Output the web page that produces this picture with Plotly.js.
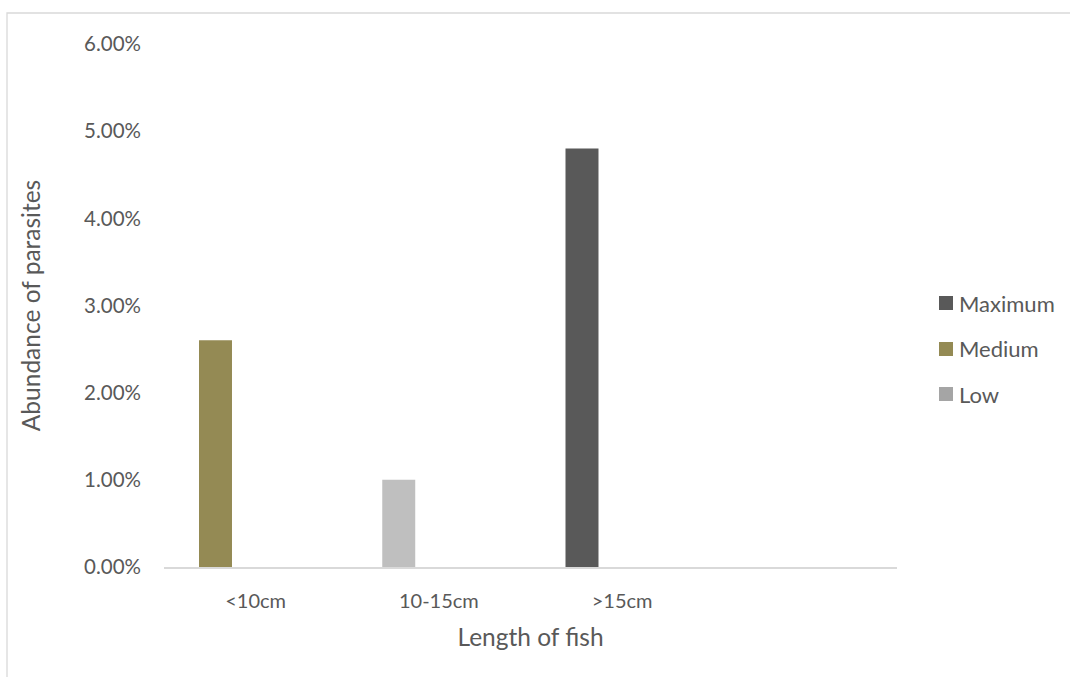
<!DOCTYPE html>
<html>
<head>
<meta charset="utf-8">
<script src="https://cdn.plot.ly/plotly-3.0.1.min.js"></script>
<style>
  html, body { margin: 0; padding: 0; background: #ffffff; }
  #chart { width: 1070px; height: 677px; }
</style>
</head>
<body>
<div id="chart"></div>
<script>
// Length classes of fish (the fourth slot of the axis is left empty)
const categories = ['<10cm', '10-15cm', '>15cm'];
const axisSlots = ['<10cm', '10-15cm', '>15cm', ' '];

// Abundance of parasites per series (fraction, shown as %)
const seriesNames = ['Maximum', 'Medium', 'Low'];
const maximumValues = [null, null, 0.048];
const mediumValues = [0.026, null, null];
const lowValues = [null, 0.010, null];

const barColors = ['#595959', '#948A54', '#BFBFBF'];
const legendColors = ['#595959', '#948A54', '#A5A5A5'];

const textColor = '#595959';
const fontFamily = 'Lato, "Open Sans", sans-serif';

const seriesValues = [maximumValues, mediumValues, lowValues];

const traces = seriesNames.map((name, i) => ({
  type: 'bar',
  name: name,
  x: categories,
  y: seriesValues[i],
  width: 0.18,
  offset: -0.309,
  marker: { color: barColors[i], line: { width: 0 } },
  showlegend: false,
  hoverinfo: 'x+y+name'
}));

// Plot area in pixels
const W = 1070, H = 677;
const L = 164, R = 897, T = 44, B = 567;
const px = v => (v - L) / (R - L);
const py = v => (B - v) / (B - T);

// Legend: swatches and labels at the right of the plot
const legendX = 939, legendSize = 14, legendYs = [303, 349, 394];
const shapes = [];
const annotations = [];
seriesNames.forEach((name, i) => {
  const yc = legendYs[i];
  shapes.push({
    type: 'rect', xref: 'paper', yref: 'paper',
    x0: px(legendX), x1: px(legendX + legendSize),
    y0: py(yc + legendSize / 2), y1: py(yc - legendSize / 2),
    fillcolor: legendColors[i], line: { width: 0 }
  });
  annotations.push({
    xref: 'paper', yref: 'paper',
    x: px(legendX + legendSize + 4), y: py(yc),
    xanchor: 'left', yanchor: 'middle',
    text: name, showarrow: false,
    font: { family: fontFamily, size: 22, color: textColor }
  });
});

// Outer chart border (runs off the right and bottom edges)
shapes.push({
  type: 'rect', xref: 'paper', yref: 'paper',
  x0: px(7), x1: px(W + 10), y0: py(H + 10), y1: py(13),
  line: { color: '#D9D9D9', width: 1.3 }, fillcolor: 'rgba(0,0,0,0)', layer: 'below'
});

const layout = {
  width: W, height: H,
  margin: { l: L, r: W - R, t: T, b: H - B, pad: 0 },
  paper_bgcolor: '#ffffff',
  plot_bgcolor: '#ffffff',
  barmode: 'overlay',
  showlegend: false,
  font: { family: fontFamily, color: textColor },
  xaxis: {
    type: 'category',
    categoryorder: 'array',
    categoryarray: axisSlots,
    range: [-0.5, 3.5],
    showline: true, linecolor: '#D9D9D9', linewidth: 1.5,
    showgrid: false, zeroline: false, ticks: '',
    ticklabelstandoff: 15,
    tickfont: { family: fontFamily, size: 20, color: textColor },
    title: {
      text: 'Length of fish', standoff: 18,
      font: { family: fontFamily, size: 24.5, color: textColor }
    },
    fixedrange: true
  },
  yaxis: {
    range: [0, 0.06], dtick: 0.01, tickformat: '.2%',
    showline: false, showgrid: false, zeroline: false, ticks: '',
    ticklabelstandoff: 22,
    tickfont: { family: fontFamily, size: 20.5, color: textColor },
    title: {
      text: 'Abundance of parasites', standoff: 36,
      font: { family: fontFamily, size: 24.5, color: textColor }
    },
    fixedrange: true
  },
  shapes: shapes,
  annotations: annotations
};

Plotly.newPlot('chart', traces, layout, { displayModeBar: false, staticPlot: true });
</script>
</body>
</html>
